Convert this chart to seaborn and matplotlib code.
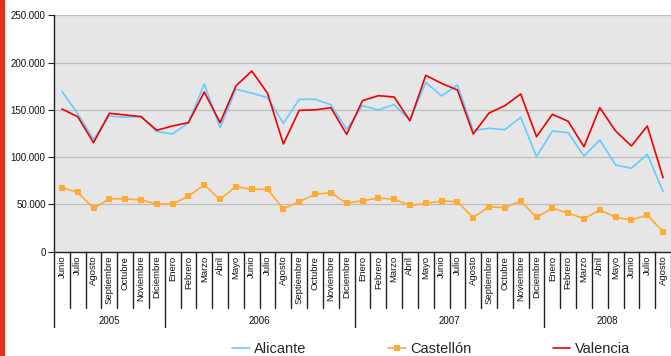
import matplotlib
matplotlib.use("Agg")
import matplotlib.pyplot as plt
import matplotlib.transforms as mtransforms
from matplotlib.lines import Line2D
from matplotlib.patches import Rectangle
import seaborn as sns
import pandas as pd

years = ["2005", "2006", "2007", "2008"]
months_per_year = [
    ["Junio", "Julio", "Agosto", "Septiembre", "Octubre", "Noviembre", "Diciembre"],
    ["Enero", "Febrero", "Marzo", "Abril", "Mayo", "Junio", "Julio", "Agosto",
     "Septiembre", "Octubre", "Noviembre", "Diciembre"],
    ["Enero", "Febrero", "Marzo", "Abril", "Mayo", "Junio", "Julio", "Agosto",
     "Septiembre", "Octubre", "Noviembre", "Diciembre"],
    ["Enero", "Febrero", "Marzo", "Abril", "Mayo", "Junio", "Julio", "Agosto"],
]

alicante = [169600, 146000, 118800, 143500, 142100, 143000, 127000, 124500, 136500,
            177400, 131200, 171800, 167800, 162900, 135800, 161200, 161200, 155500,
            129400, 154400, 149900, 155500, 139000, 179100, 164700, 176300, 128000,
            130500, 129000, 142100, 100500, 127600, 125900, 101200, 118100, 91700,
            88200, 103000, 63500]
castellon = [67700, 62800, 45900, 56000, 56000, 54700, 50400, 50400, 58900, 70500,
             55400, 68800, 66000, 66000, 45200, 52900, 60700, 62400, 51200, 53900,
             56800, 55400, 49000, 51200, 53600, 52900, 36000, 47600, 46500, 53600,
             36400, 45900, 40900, 34900, 44100, 36400, 33500, 38800, 21200]
valencia = [150900, 142800, 115300, 146400, 144600, 142800, 128400, 133000, 136500,
            168900, 136500, 175300, 191100, 167500, 113900, 149500, 150000, 152300,
            124100, 159700, 165000, 163600, 138500, 186500, 178000, 171000, 124500,
            146700, 154400, 166800, 121600, 145300, 137900, 111000, 152300, 127600,
            111800, 132900, 78300]

series_names = ["Alicante", "Castellón", "Valencia"]
series_colors = ["#66ccff", "#ffaa33", "#ee0000"]
y_ticks = [0, 50000, 100000, 150000, 200000, 250000]

month_labels = [m for ms in months_per_year for m in ms]
n = len(month_labels)
df = pd.DataFrame({"idx": list(range(n)), "Alicante": alicante,
                   "Castellón": castellon, "Valencia": valencia})

sns.set_theme(style="white")
plt.rcParams["font.family"] = ["Liberation Sans", "DejaVu Sans"]

W, H = 671, 356
fig = plt.figure(figsize=(W / 100, H / 100), dpi=100)
left, right, top, bottom = 54, 671, 15.3, 251.7
ax = fig.add_axes([left / W, 1 - bottom / H, (right - left) / W, (bottom - top) / H])
ax.set_facecolor("#e6e6e6")

# red strip on the left edge of the page
fig.patches.append(Rectangle((0, 0), 4 / W, 1, transform=fig.transFigure,
                             color="#e03020", zorder=5))

for name, color in zip(series_names, series_colors):
    marker = "s" if name == "Castellón" else None
    sns.lineplot(data=df, x="idx", y=name, ax=ax, color=color, linewidth=1.2,
                 marker=marker, markersize=3.8, markeredgewidth=0, zorder=3)

ax.set_xlim(-0.5, n - 0.5)
ax.set_ylim(0, 250000)
ax.set_yticks(y_ticks)
ax.set_yticklabels([f"{v:,.0f}".replace(",", ".") for v in y_ticks], fontsize=7)
ax.yaxis.grid(True, color="#bdbdbd", linewidth=0.9)
ax.set_axisbelow(True)
ax.set_xticks([])
ax.set_xlabel("")
ax.set_ylabel("")
for s in ["top", "right"]:
    ax.spines[s].set_visible(False)
ax.spines["left"].set_color("#222222")
ax.spines["bottom"].set_color("#222222")
ax.spines["left"].set_linewidth(1.0)
ax.spines["bottom"].set_linewidth(1.0)
ax.tick_params(axis="y", left=True, length=4, width=0.8, color="#222222", pad=2,
               labelcolor="#111111")

# category axis: months, separators and year groups
trans = mtransforms.blended_transform_factory(ax.transData, ax.transAxes)
ph = bottom - top
month_sep = -(308 - bottom) / ph
year_sep = -(327 - bottom) / ph
year_y = -(321.5 - bottom) / ph

for i, m in enumerate(month_labels):
    ax.text(i, -4 / ph, m, transform=trans, rotation=90, ha="center", va="top",
            fontsize=6.8, color="#111111")

boundaries = [-0.5]
acc = -0.5
for ms in months_per_year:
    acc += len(ms)
    boundaries.append(acc)

for b in [k - 0.5 for k in range(n + 1)]:
    lo = year_sep if b in boundaries else month_sep
    ax.plot([b, b], [0, lo], transform=trans, color="#222222", linewidth=1.0,
            clip_on=False)

start = -0.5
for yr, ms in zip(years, months_per_year):
    end = start + len(ms)
    ax.text((start + end) / 2, year_y, yr, transform=trans, ha="center", va="center",
            fontsize=7, color="#111111")
    start = end

handles = []
for name, color in zip(series_names, series_colors):
    marker = "s" if name == "Castellón" else None
    handles.append(Line2D([0], [0], color=color, linewidth=1.2, marker=marker,
                          markersize=3.8, markeredgewidth=0))
fig.legend(handles, series_names, loc="center", bbox_to_anchor=(431 / W, 1 - 349 / H),
           ncol=3, frameon=False, fontsize=10.5, handlelength=1.2, handletextpad=0.3,
           columnspacing=5.6)

fig.savefig("out.png", dpi=100, facecolor="white")
